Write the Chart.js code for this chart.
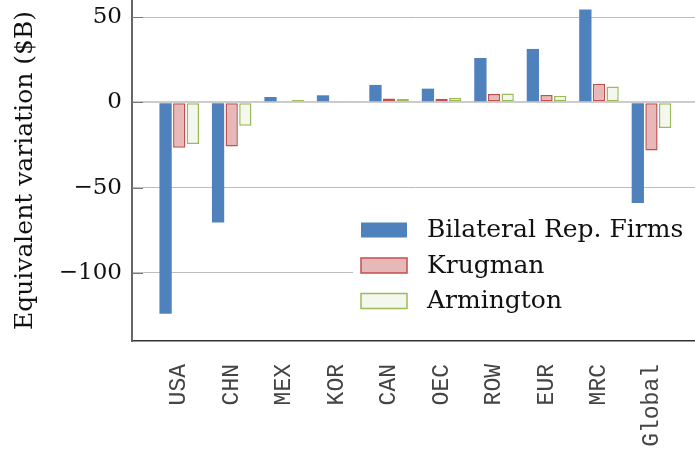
<!DOCTYPE html>
<html>
<head>
<meta charset="utf-8">
<script src="https://cdn.jsdelivr.net/npm/chart.js@4.4.1/dist/chart.umd.min.js"></script>
<style>
    html, body { margin: 0; padding: 0; background: #fff; overflow: hidden; }
    #wrap { width: 695px; height: 450px; overflow: hidden; }
    canvas { display: block; }
</style>
</head>
<body>
<!-- plot runs a little past the right edge, like the cropped original -->
<div id="wrap"><canvas id="evChart" width="698" height="450"></canvas></div>
<script>
// Equivalent variation by region ($B)
const regions = ['USA', 'CHN', 'MEX', 'KOR', 'CAN', 'OEC', 'ROW', 'EUR', 'MRC', 'Global'];
const bilateralRepFirms = [-124.0, -70.5, 3.1, 4.1, 10.2, 8.0, 26.0, 31.3, 54.5, -59.1];
const krugman = [-26.7, -25.9, 0.6, 0.8, 2.2, 2.1, 4.9, 4.3, 10.9, -28.3];
const armington = [-24.5, -13.8, 1.4, 0.8, 2.0, 2.7, 5.1, 3.9, 9.2, -15.1];
const yTicks = [-100, -50, 0, 50];

const serif = "'DejaVu Serif', serif";

function toPoints(values) {
    return values.map((v, i) => ({ x: i, y: v }));
}

// legend sits inside the plot, with a white box behind it
const insideLegend = {
    id: 'insideLegend',
    afterDatasetsDraw(chart) {
        const ctx = chart.ctx;
        ctx.save();
        ctx.fillStyle = '#ffffff';
        ctx.fillRect(353, 207, 345, 115);
        ctx.font = '25px ' + serif;
        ctx.textBaseline = 'middle';
        ctx.textAlign = 'left';
        chart.data.datasets.forEach((ds, i) => {
            const top = 222.5 + i * 35.5;
            ctx.fillStyle = ds.backgroundColor;
            ctx.fillRect(361, top, 46, 15);
            if (ds.borderWidth) {
                ctx.strokeStyle = ds.borderColor;
                ctx.lineWidth = 1.5;
                ctx.strokeRect(361, top, 46, 15);
            }
            ctx.fillStyle = '#111';
            ctx.fillText(ds.label, 427, top + 8);
        });
        ctx.restore();
    }
};

// small tick marks drawn inward from the left axis
const innerTicks = {
    id: 'innerTicks',
    afterDatasetsDraw(chart) {
        const ctx = chart.ctx;
        const y = chart.scales.y;
        ctx.save();
        ctx.strokeStyle = '#777';
        ctx.lineWidth = 1;
        yTicks.forEach(v => {
            const py = Math.round(y.getPixelForValue(v)) + 0.5;
            ctx.beginPath();
            ctx.moveTo(chart.chartArea.left, py);
            ctx.lineTo(chart.chartArea.left + 11, py);
            ctx.stroke();
        });
        ctx.restore();
    }
};

new Chart(document.getElementById('evChart'), {
    type: 'bar',
    data: {
        datasets: [{
            label: 'Bilateral Rep. Firms',
            data: toPoints(bilateralRepFirms),
            backgroundColor: '#4F81BD',
            borderWidth: 0
        }, {
            label: 'Krugman',
            data: toPoints(krugman),
            backgroundColor: '#E6B9B8',
            borderColor: '#C0504D',
            borderWidth: 1.5
        }, {
            label: 'Armington',
            data: toPoints(armington),
            backgroundColor: '#F4F7EE',
            borderColor: '#9BBB59',
            borderWidth: 1.5
        }]
    },
    options: {
        responsive: false,
        devicePixelRatio: 1,
        animation: false,
        layout: { padding: 0 },
        datasets: {
            bar: {
                categoryPercentage: 0.78,
                barPercentage: 0.9,
                borderSkipped: false
            }
        },
        plugins: {
            legend: { display: false },
            tooltip: { enabled: false }
        },
        scales: {
            x: {
                type: 'linear',
                offset: false,
                min: -0.9,
                max: 9.887,
                afterBuildTicks: scale => {
                    scale.ticks = regions.map((r, i) => ({ value: i }));
                },
                afterFit: scale => {
                    scale.height = 109;
                    scale.paddingLeft = 0;
                    scale.paddingRight = 0;
                },
                ticks: {
                    autoSkip: false,
                    minRotation: 90,
                    maxRotation: 90,
                    padding: 15,
                    color: '#444',
                    font: { family: "'Liberation Mono', monospace", size: 23 },
                    callback: v => regions[v]
                },
                grid: { display: false },
                border: { color: '#333', width: 1.5 }
            },
            y: {
                min: -140,
                max: 60,
                afterBuildTicks: scale => {
                    scale.ticks = yTicks.map(v => ({ value: v }));
                },
                afterFit: scale => {
                    scale.width = 132;
                    scale.paddingTop = 0;
                    scale.paddingBottom = 0;
                },
                ticks: {
                    padding: 10,
                    color: '#111',
                    font: { family: serif, size: 23 },
                    callback: v => (v < 0 ? '\u2212' + (-v) : '' + v)
                },
                grid: {
                    drawTicks: false,
                    color: c => (c.tick && c.tick.value === 0 ? '#cccccc' : '#bdbdbd'),
                    lineWidth: c => (c.tick && c.tick.value === 0 ? 2 : 1)
                },
                border: { color: '#666', width: 2 },
                title: {
                    display: true,
                    text: 'Equivalent variation ($B)',
                    color: '#111',
                    font: { family: serif, size: 25 },
                    padding: { top: 10, bottom: 0 }
                }
            }
        }
    },
    plugins: [insideLegend, innerTicks]
});
</script>
</body>
</html>
